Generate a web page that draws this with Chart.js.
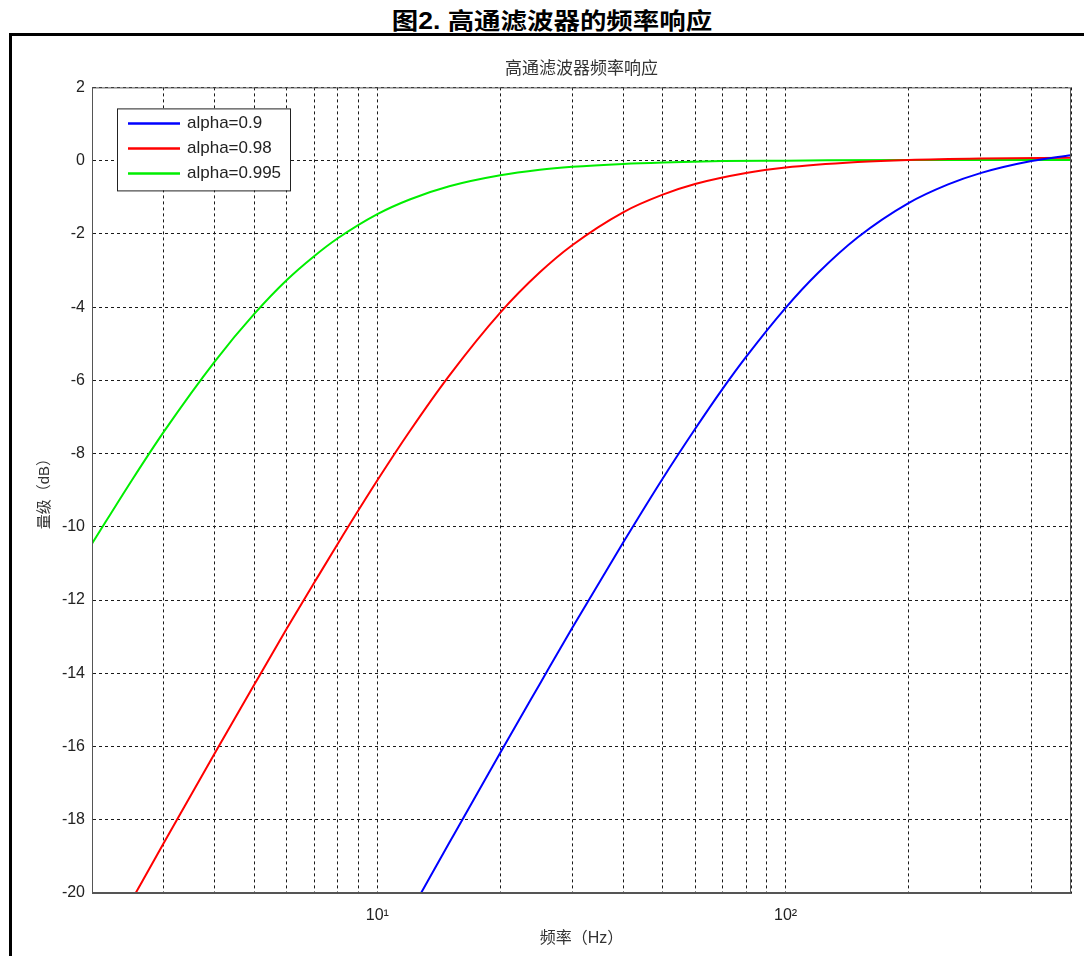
<!DOCTYPE html>
<html>
<head>
<meta charset="utf-8">
<script src="https://cdn.jsdelivr.net/npm/chart.js@4.4.0/dist/chart.umd.min.js"></script>
<style>
  body { margin: 0; background: #fff; }
  #page { position: relative; width: 1084px; height: 956px; overflow: hidden; background: #fff; }
  #figTitle {
    position: absolute; top: 2px; left: 10px; width: 1084px; height: 30px; line-height: 30px; text-align: center;
    font: bold 23px Arial, "Liberation Sans", "Noto Sans CJK SC", sans-serif; color: #000;
    transform: scaleX(1.15); transform-origin: 542px 15px;
  }
  #frame {
    position: absolute; left: 9px; top: 33px; width: 2000px; height: 2000px;
    border-top: 3px solid #000; border-left: 3px solid #000;
  }
  #chart { position: absolute; left: 0; top: 0; }
</style>
</head>
<body>
<div id="page">
  <div id="figTitle">图2. 高通滤波器的频率响应</div>
  <div id="frame"></div>
  <canvas id="chart" width="1084" height="956"></canvas>
</div>
<script>
// values (frequency in Hz, magnitude in dB)
const seriesLabels = ["alpha=0.9", "alpha=0.98", "alpha=0.995"];

const freqBlue = [12, 15, 20, 25, 30, 40, 50, 60, 70, 80, 100, 120, 150, 200, 250, 300, 400, 500];
const magBlue = [-20.55, -18.63, -16.17, -14.29, -12.76, -10.43, -8.68, -7.33, -6.24, -5.36, -4.02, -3.07, -2.1, -1.16, -0.65, -0.34, -0.01, 0.15];

const freqRed = [2.5, 3, 4, 5, 6, 7, 8, 10, 12, 15, 20, 25, 30, 40, 50, 60, 80, 100, 150, 200, 300, 500];
const magRed = [-20.2, -18.63, -16.18, -14.3, -12.78, -11.53, -10.46, -8.73, -7.39, -5.87, -4.15, -3.05, -2.31, -1.41, -0.93, -0.64, -0.34, -0.19, -0.04, 0.02, 0.06, 0.08];

const freqGreen = [2, 2.5, 3, 4, 5, 6, 7, 8, 10, 12, 15, 20, 25, 30, 40, 50, 70, 100, 200, 500];
const magGreen = [-10.46, -8.74, -7.4, -5.48, -4.18, -3.26, -2.61, -2.12, -1.46, -1.06, -0.7, -0.4, -0.25, -0.17, -0.09, -0.05, -0.01, 0.0, 0.02, 0.02];

const xGridValues = [2, 3, 4, 5, 6, 7, 8, 9, 10, 20, 30, 40, 50, 60, 70, 80, 90, 100, 200, 300, 400, 500];
const decadeTicks = [10, 100];
const decadeLabels = ["10\u00b9", "10\u00b2"];

const latinFont = '"Liberation Sans", Arial, "Noto Sans CJK SC", sans-serif';

function toPoints(xs, ys) {
  return xs.map((x, i) => ({ x: x, y: ys[i] }));
}

// plot frame (top/right sides) and the boxed legend inside the axes
const frameAndLegend = {
  id: "frameAndLegend",
  afterDatasetsDraw(chart) {
    const { ctx, chartArea: a } = chart;
    ctx.save();
    ctx.strokeStyle = "#555";
    ctx.lineWidth = 1;
    ctx.strokeRect(a.left + 0.5, a.top + 0.5, a.width - 1, a.height - 1);

    const lx = a.left + 25, ly = a.top + 21, lw = 173, lh = 82;
    ctx.fillStyle = "#fff";
    ctx.fillRect(lx, ly, lw, lh);
    ctx.strokeStyle = "#222";
    ctx.strokeRect(lx + 0.5, ly + 0.5, lw, lh);
    ctx.font = "17px " + latinFont;
    ctx.textBaseline = "middle";
    chart.data.datasets.forEach((ds, i) => {
      const y = ly + 15 + i * 25;
      ctx.strokeStyle = ds.borderColor;
      ctx.lineWidth = 2.5;
      ctx.beginPath();
      ctx.moveTo(lx + 11, y);
      ctx.lineTo(lx + 63, y);
      ctx.stroke();
      ctx.fillStyle = "#222";
      ctx.fillText(ds.label, lx + 70, y);
    });
    ctx.restore();
  }
};

const ctx = document.getElementById("chart").getContext("2d");

new Chart(ctx, {
  type: "line",
  data: {
    datasets: [
      { label: seriesLabels[0], data: toPoints(freqBlue, magBlue), borderColor: "#0000ff" },
      { label: seriesLabels[1], data: toPoints(freqRed, magRed), borderColor: "#ff0000" },
      { label: seriesLabels[2], data: toPoints(freqGreen, magGreen), borderColor: "#00ee00" }
    ]
  },
  options: {
    responsive: false,
    animation: false,
    layout: { padding: { left: 0, top: 0, right: 12, bottom: 0 } },
    elements: {
      point: { radius: 0 },
      line: { borderWidth: 2, cubicInterpolationMode: "monotone" }
    },
    plugins: {
      legend: { display: false },
      tooltip: { enabled: false },
      title: {
        display: true,
        fullSize: false,
        text: "高通滤波器频率响应",
        color: "#333",
        font: { family: latinFont, size: 17, weight: "normal" },
        padding: { top: 59, bottom: 8 }
      }
    },
    scales: {
      x: {
        type: "logarithmic",
        min: 2,
        max: 500,
        afterBuildTicks: (scale) => {
          scale.ticks = xGridValues.map((v) => ({ value: v }));
        },
        afterFit: (scale) => { scale.height = 63; },
        ticks: {
          autoSkip: false,
          maxRotation: 0,
          padding: 13,
          color: "#222",
          font: { family: latinFont, size: 16 },
          callback: (value) => {
            const i = decadeTicks.indexOf(value);
            return i >= 0 ? decadeLabels[i] : "";
          }
        },
        grid: { color: "#1a1a1a", lineWidth: 1, drawTicks: false },
        border: { color: "#555", dash: [3, 3] },
        title: {
          display: true,
          text: "频率（Hz）",
          color: "#333",
          font: { family: latinFont, size: 16 },
          padding: { top: 0, bottom: 8 }
        }
      },
      y: {
        min: -20,
        max: 2,
        afterFit: (scale) => { scale.width = 92; },
        ticks: {
          stepSize: 2,
          padding: 7,
          color: "#222",
          font: { family: latinFont, size: 16 }
        },
        grid: { color: "#1a1a1a", lineWidth: 1, drawTicks: false },
        border: { color: "#555", dash: [3, 3] },
        title: {
          display: true,
          text: "量级（dB）",
          color: "#333",
          font: { family: latinFont, size: 15 },
          padding: { top: 36, bottom: 0 }
        }
      }
    }
  },
  plugins: [frameAndLegend]
});
</script>
</body>
</html>
